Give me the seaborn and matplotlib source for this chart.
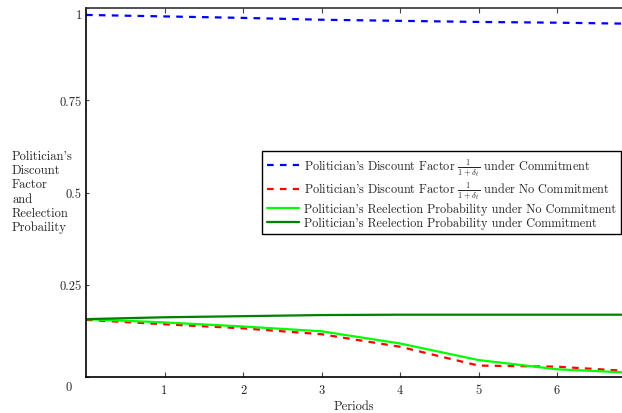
import matplotlib
matplotlib.use("Agg")
import matplotlib.pyplot as plt
from matplotlib.transforms import ScaledTranslation
import numpy as np
import pandas as pd
import seaborn as sns

# Model output by period
periods = [0, 1, 2, 3, 4, 5, 6, 7]
discount_commit = [0.982, 0.978, 0.974, 0.969, 0.966, 0.963, 0.961, 0.958]
discount_no_commit = [0.155, 0.143, 0.132, 0.116, 0.082, 0.031, 0.028, 0.015]
reelect_no_commit = [0.157, 0.148, 0.137, 0.124, 0.091, 0.046, 0.021, 0.011]
reelect_commit = [0.157, 0.162, 0.165, 0.168, 0.169, 0.169, 0.169, 0.169]

y_ticks = [0, 0.25, 0.5, 0.75, 1]
y_tick_labels = ["0", "0.25", "0.5", "0.75", "1"]
x_ticks = [1, 2, 3, 4, 5, 6]

frac = r"$\frac{1}{1+\delta_t}$"
labels = [
    "Politician's Discount Factor " + frac + " under Commitment",
    "Politician's Discount Factor " + frac + " under No Commitment",
    "Politician's Reelection Probability under No Commitment",
    "Politician's Reelection Probability under Commitment",
]
y_title_lines = ["Politician's", "Discount", "Factor", "and", "Reelection", "Probaility"]

sns.set_style("white")
plt.rcParams["font.family"] = ["cmr10", "DejaVu Serif"]
plt.rcParams["mathtext.fontset"] = "cm"
plt.rcParams["axes.formatter.use_mathtext"] = True
plt.rcParams["axes.unicode_minus"] = False

FS = 9
LEG_FS = 8.8

df = pd.DataFrame({
    "period": periods,
    "dc": discount_commit,
    "dn": discount_no_commit,
    "rn": reelect_no_commit,
    "rc": reelect_commit,
})

fig = plt.figure(figsize=(6.22, 4.14), dpi=100)
ax = fig.add_axes([86 / 622, 36 / 414, 536 / 622, 368.7 / 414])

dash = (0, (3.0, 2.8))
sns.lineplot(data=df, x="period", y="dc", ax=ax, color="#0000ff", lw=1.6,
             linestyle=dash, label=labels[0])
sns.lineplot(data=df, x="period", y="dn", ax=ax, color="#ff0000", lw=1.6,
             linestyle=dash, label=labels[1])
sns.lineplot(data=df, x="period", y="rn", ax=ax, color="#00ff00", lw=1.6,
             label=labels[2])
sns.lineplot(data=df, x="period", y="rc", ax=ax, color="#008000", lw=1.6,
             label=labels[3])

ax.set_xlim(0, 6.828)
ax.set_ylim(0, 1.0)
ax.set_xticks(x_ticks)
ax.set_xticklabels([str(t) for t in x_ticks], fontsize=FS)
ax.set_yticks(y_ticks)
ax.set_yticklabels(y_tick_labels, fontsize=FS)

ax.tick_params(axis="x", direction="in", length=3.5, width=0.8, color="#444444",
               pad=5, top=True, bottom=True)
ax.tick_params(axis="y", direction="in", length=2.5, width=0.8, color="#444444",
               pad=3, left=True, right=False)

# nudge the corner labels
ylabels = ax.get_yticklabels()
ylabels[0].set_transform(ylabels[0].get_transform()
                         + ScaledTranslation(-10 / 100, -8 / 100, fig.dpi_scale_trans))
ylabels[-1].set_transform(ylabels[-1].get_transform()
                          + ScaledTranslation(0, -5 / 100, fig.dpi_scale_trans))

ax.set_xlabel("Periods", fontsize=FS, labelpad=3)
ax.set_ylabel("")

for side in ["left", "bottom"]:
    ax.spines[side].set_color("black")
    ax.spines[side].set_linewidth(1.2)
ax.spines["top"].set_color("#333333")
ax.spines["top"].set_linewidth(1.2)
ax.spines["right"].set_visible(False)

# stacked vertical-axis title, one line at a time
for i, line in enumerate(y_title_lines):
    fig.text(12 / 622, 1 - (157 + 14.2 * i) / 414, line,
             fontsize=FS, ha="left", va="center")

leg = ax.legend(loc="upper left", bbox_to_anchor=(262 / 622, 1 - 152 / 414),
                bbox_transform=fig.transFigure, fontsize=LEG_FS, frameon=True,
                fancybox=False, framealpha=1, edgecolor="black",
                handlelength=2.6, handletextpad=0.4, borderpad=0.4,
                labelspacing=0.12, borderaxespad=0)
leg.get_frame().set_linewidth(1.0)

fig.savefig("out.png", dpi=100)
